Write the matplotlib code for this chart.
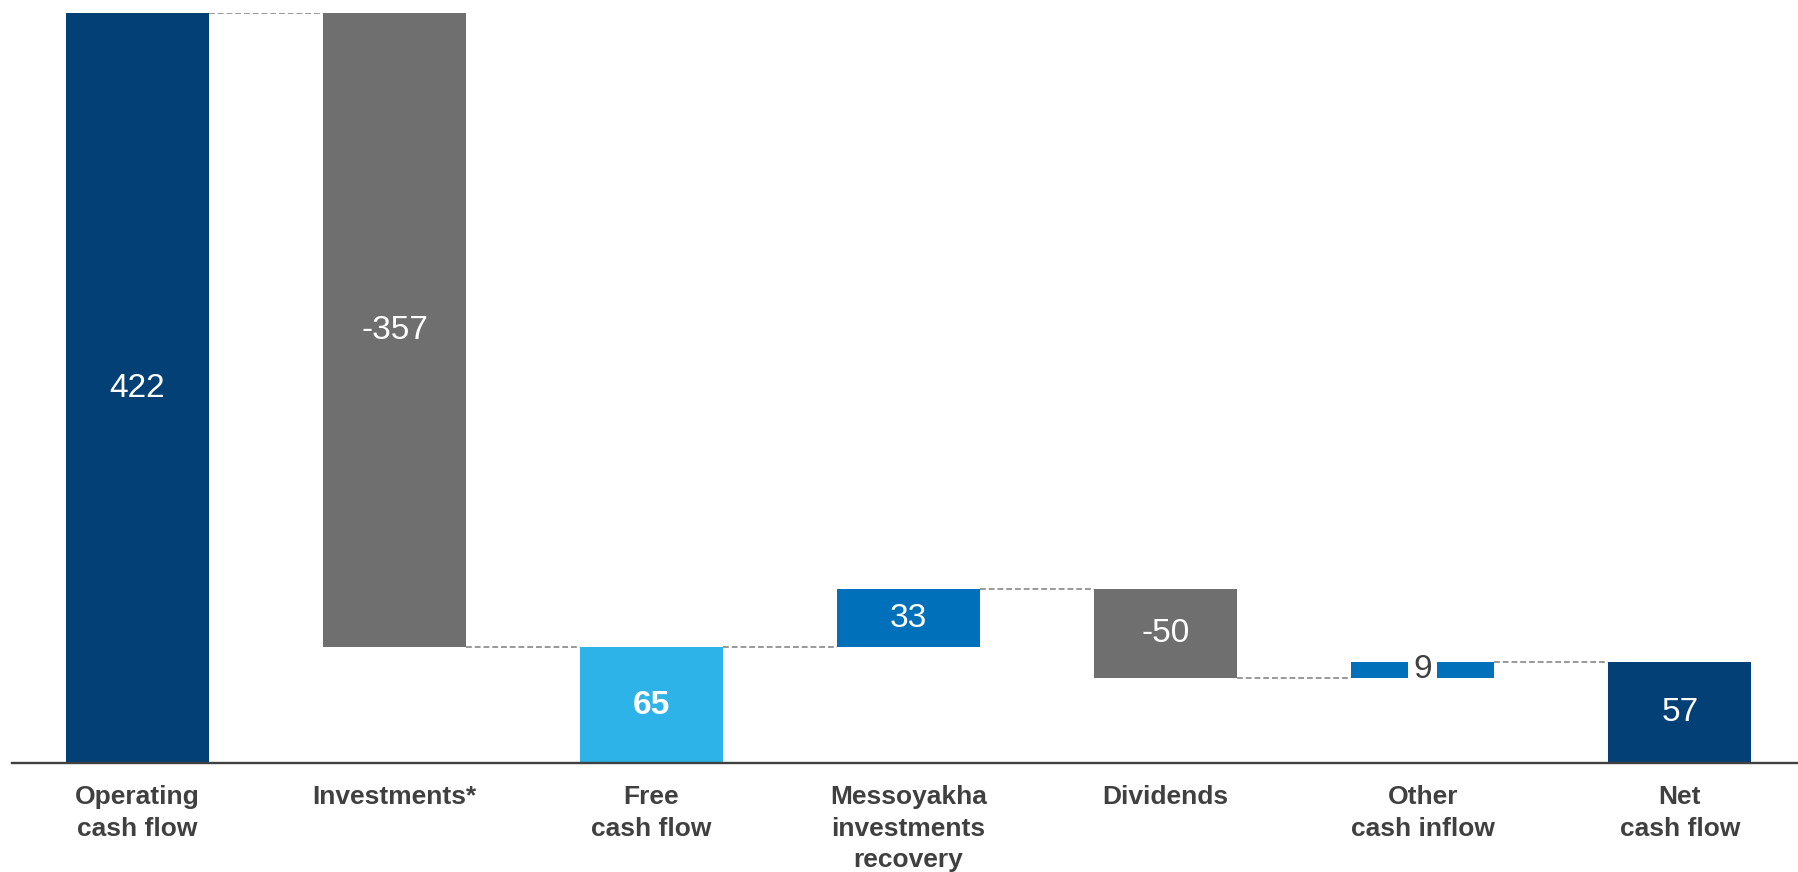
import numpy as np
import matplotlib.pyplot as plt

plt.rcParams['font.family'] = ['Liberation Sans', 'DejaVu Sans']

categories = ['Operating\ncash flow', 'Investments*', 'Free\ncash flow',
              'Messoyakha\ninvestments\nrecovery', 'Dividends',
              'Other\ncash inflow', 'Net\ncash flow']
values = [422, -357, 65, 33, -50, 9, 57]
is_total = [True, False, True, False, False, False, True]
value_labels = ['422', '-357', '65', '33', '-50', '9', '57']

bar_colors = ['#034075', '#6f6f6f', '#2eb3e9', '#0070ba', '#6f6f6f', '#0070ba', '#034075']
label_colors = ['white', 'white', 'white', 'white', 'white', '#404040', 'white']
label_bold = [False, False, True, False, False, False, False]

# running totals -> bottoms/tops
bottoms = []
heights = []
level = 0
for v, tot in zip(values, is_total):
    if tot:
        bottoms.append(0)
        heights.append(v)
        level = v
    else:
        if v >= 0:
            bottoms.append(level)
        else:
            bottoms.append(level + v)
        heights.append(abs(v))
        level = level + v
ends = [b + h if (tot or v >= 0) else b for b, h, v, tot in zip(bottoms, heights, values, is_total)]

fig = plt.figure(figsize=(17.98, 8.72), dpi=100)
ax = fig.add_axes([0.0064, 0.125, 0.9936, 0.860])

x = np.arange(len(categories))
width = 0.557
ax.bar(x, heights, bottom=bottoms, width=width, color=bar_colors, zorder=2)

# connectors
for i in range(len(x) - 1):
    ax.plot([x[i] + width / 2, x[i + 1] - width / 2], [ends[i], ends[i]],
            color='#999999', lw=1.4, ls=(0, (3, 1.5)), zorder=1)

for i in range(len(x)):
    yc = bottoms[i] + heights[i] / 2
    kw = {}
    if label_colors[i] != 'white':
        kw['bbox'] = dict(facecolor='white', edgecolor='none', pad=3.5)
    ax.text(x[i], yc, value_labels[i], ha='center', va='center', fontsize=24,
            color=label_colors[i], fontweight='bold' if label_bold[i] else 'normal',
            zorder=3, **kw)

ax.set_xlim(-0.49, 6.46)
ax.set_ylim(0, 422)
for s in ['top', 'right', 'left']:
    ax.spines[s].set_visible(False)
ax.spines['bottom'].set_color('#404040')
ax.spines['bottom'].set_linewidth(1.7)
ax.set_yticks([])
ax.set_xticks(x)
ax.set_xticklabels(categories, fontsize=19, fontweight='bold', color='#404040',
                   linespacing=1.4, va='top')
ax.tick_params(axis='x', length=0, pad=16)

fig.savefig('out.png', dpi=100)
